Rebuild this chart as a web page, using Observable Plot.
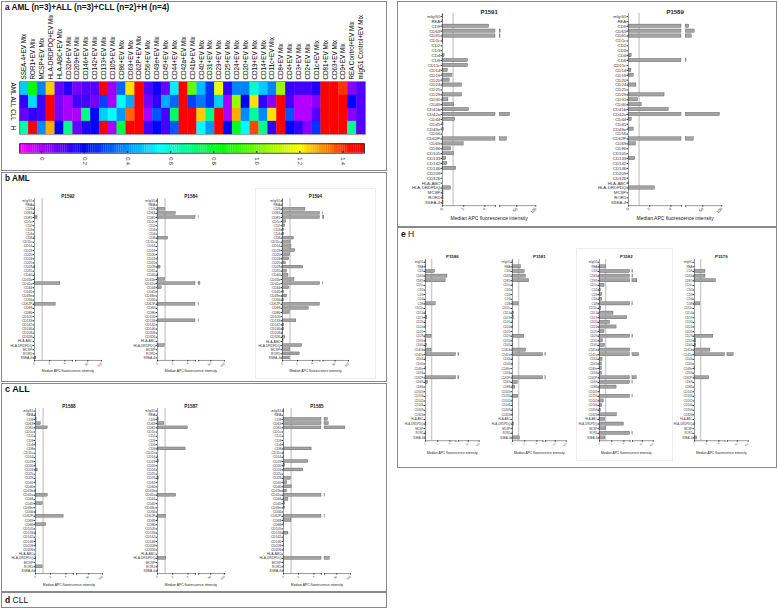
<!DOCTYPE html>
<html><head><meta charset="utf-8">
<script src="https://cdn.jsdelivr.net/npm/d3@7"></script>
<script src="https://cdn.jsdelivr.net/npm/@observablehq/plot@0.6"></script>
<style>
body{margin:0;background:#fff;font-family:"Liberation Sans",Arial,sans-serif}
#fig{position:relative;width:778px;height:609px;overflow:hidden;background:#fff}
.box{position:absolute;border:1px solid #8a8a8a;box-sizing:border-box}
.faint{position:absolute;border:1px solid #ececec;box-sizing:border-box}
.lab{position:absolute;white-space:nowrap;color:#111;line-height:1}
svg{overflow:visible}
</style></head><body><div id="fig"></div><script>
// ---------- DATA ----------
const markers = ["mIgG1","REA","CD9","CD63","CD81","CD1c","CD2","CD3","CD4","CD8","CD11c","CD14","CD19","CD20","CD24","CD25","CD29","CD31","CD40","CD41b","CD42a","CD44","CD45","CD49e","CD56","CD62P","CD69","CD86","CD105","CD133","CD142","CD146","CD209","CD326","HLA-ABC","HLA-DRDPDQ","MCSP","ROR1","SSEA-4"];

const heatCols = ["SSEA-4+EV Mix","ROR1+EV Mix","MCSP+EV Mix","HLA-DRDPDQ+EV Mix","HLA-ABC+EV Mix","CD326+EV Mix","CD209+EV Mix","CD146+EV Mix","CD142+EV Mix","CD133+EV Mix","CD105+EV Mix","CD86+EV Mix","CD69+EV Mix","CD62P+EV Mix","CD56+EV Mix","CD49e+EV Mix","CD45+EV Mix","CD44+EV Mix","CD42a+EV Mix","CD41b+EV Mix","CD40+EV Mix","CD31+EV Mix","CD29+EV Mix","CD25+EV Mix","CD24+EV Mix","CD20+EV Mix","CD19+EV Mix","CD14+EV Mix","CD11c+EV Mix","CD8+EV Mix","CD4+EV Mix","CD3+EV Mix","CD2+EV Mix","CD1c+EV Mix","CD81+EV Mix","CD63+EV Mix","CD9+EV Mix","REA Control+EV Mix","mIgG1 Control+EV Mix"];
const heatRows = ["AML","ALL","CLL","H"];
const heatAML = [0.48,0.85,0.38,1.25,0.08,0.16,0.06,0.10,0.10,1.5,0.02,0.34,1.23,1.5,0.10,0.18,0.08,0.53,1.5,0.99,0.46,0.27,1.18,0.14,0.38,0.38,0.61,0.48,0.38,1.06,0.14,0.12,0.12,0.16,1.5,1.5,1.40,0.04,0.10];
const heatALL = [0.14,0.50,0.12,1.5,0.06,0.0,0.12,0.12,0.06,0.29,0.0,0.55,0.43,1.5,0.06,0.14,0.43,0.34,1.5,0.29,0.36,0.27,0.48,0.0,1.06,0.2,1.23,0.14,0.04,1.5,0.12,-0.01,-0.01,0.04,1.5,1.5,1.5,0.2,0.10];
const heatCLL = [0.08,0.14,0.12,1.5,0.06,0.0,0.0,0.69,0.2,0.48,0.55,0.41,1.35,1.5,0.0,0.32,0.12,0.73,1.5,1.5,1.25,0.69,1.5,0.0,1.28,0.39,0.67,0.39,1.23,1.5,0.32,-0.01,-0.01,0.10,1.5,1.5,1.5,0.04,0.10];
const heatH = [0.65,1.5,0.39,1.28,0.2,0.69,0.08,0.16,0.2,1.5,0.0,0.77,1.5,1.5,0.12,0.2,0.12,0.32,1.5,1.5,0.55,0.41,1.5,0.2,0.81,0.55,1.38,0.69,0.14,1.5,0.2,0.14,0.04,0.27,1.5,1.5,1.5,0.67,0.10];

const colorStops = [-0.1,0.2,0.55,0.85,1.2,1.45];
const colorRange = ["#ff00ff","#0000ff","#00ffff","#00ff00","#ffff00","#ff0000"];
const cbTicks = [0,0.2,0.4,0.6,0.8,1.0,1.2,1.4];
const cbTickLabels = ["0","0.2","0.4","0.6","0.8","1.0","1.2","1.4"];

// median APC fluorescence intensity per marker (same order as markers)
const aml1592 = [0,0,0.05,0.1,0.4,0,0,0,0,0.05,0,0,0,0,0,0,0.1,0,0.05,0.1,3.4,0,0,0,0,2.8,0,0,0,0,0,0,0,0,0,0,0,0,0.25];
const aml1584 = [0.05,0,1.0,2.4,5.3,0,0,0,0,1.4,0,0,0,0,0.05,0,0.4,0,0.1,1.0,12,0.55,0,0,0,6,0,0,0,6,0,0,0,0,0,0.95,0,0,0];
const aml1594 = [0.1,0.05,3.06,6,10,0.45,0.36,0.22,0.22,1.5,1.1,1.2,1.7,1.04,0.9,0.45,2.75,0.6,0.8,1.6,6,0.9,0.22,0.6,0.18,5.0,3.5,0.95,0,1.85,0.22,0.22,0.1,0.36,0.14,2.6,1.04,2.3,0.95];
const all1588 = [0,0.1,0.15,0.7,1.6,0,0,0,0.05,0,0,0,0,0.1,0.3,0,0,0.05,0,0.1,1.6,0,0.95,0,0.1,3.7,0,1.4,0,0.05,0,0.1,0.1,0,0,0.1,0,0.95,0.05];
const all1587 = [0,0,0.15,0.9,4.0,0,0,0,0,3.7,0,0.05,0.15,0,0,0,0.15,0,0,0,2.45,0,0,0,0,1.1,0.1,0,0,0,0,0,0,0,0,1.15,0,0.05,0.05];
const all1585 = [0.1,0,16.7,20.6,81.8,0,0,0,0.1,3.7,0.1,0.1,3.26,0.2,2.6,0,0.95,0.5,1.1,0.43,6.5,0.65,0.2,0.2,0,6,1.04,0.1,0,0.65,0.05,0.05,0.05,0.05,0,24.5,0.1,0.1,0.05];
const cll1591 = [0.08,0.05,4.4,7.5,7,0.08,0,0,0.2,2.4,2.4,0.5,0.94,0.69,1.84,0,1.84,0.56,1.1,2.5,32,1.2,0.1,0.12,0,23.7,2.0,0.8,1.1,0.35,0.44,1.3,0,0,0,0.8,0.1,0.1,0.1];
const cll1589 = [0,0,14,28.7,21,0,0,0,0.3,7,0,0.28,0.5,0,0.75,0,3.4,0.9,1.25,3.8,95,0.3,0,0.5,0,26,0.7,0,0,0.63,0,0,0,0,0.05,2.5,0,0,0];
const h1586 = [0.1,0.1,1.55,3.6,3.3,0,0,0,0,1.67,0,0.1,0.3,0.1,0.1,0,1.0,0.1,0.2,1.0,9,0.1,0,0.1,0,9,0.4,0,0,0,0,0,0,0,0,0.15,0,0.1,0.1];
const h1581 = [0.1,1.4,2.0,2.2,2.7,0.1,0,0,0,1.0,0,0.2,0.2,0.1,0.1,0,1.95,0.1,0.1,2.2,8,0.1,0.1,0,0,7,0.85,0.45,0,0.95,0.1,0.1,0.1,0.1,0,0.2,0.1,0.1,1.2];
const h1582 = [0,1.1,8,8,27.6,0.83,0.2,0.45,0.45,6,0.3,2.3,4.55,1.7,2.8,0.83,8,0.55,0.9,5.0,35,0.5,0.4,0.4,0.4,24.6,6,2.8,0.1,6,0.7,0.45,0.2,2.85,0.95,4,1.1,6,0.95];
const h1579 = [0,0,1.8,1.8,3.5,0,0,0,0,0.95,0,0,0,0,0,0,3.1,0.3,0.3,2.6,33.6,0,0,0.1,0,2.4,0,0,0,0,0,0,0,0,0,0.1,0,0,0.45];

const xTickValues = [0,2,4,50,100];
const xTickLabels = ["0","2","4","50","100"];
const xLabelText = "Median APC fluorescence intensity";
const THRESH = 1;
// ---------- BROKEN AXIS ----------
const BREAK = 5, GAP = 0.4, SEG2 = 3.4/95;
const brk = v => v <= BREAK ? v : BREAK + GAP + (v - BREAK) * SEG2;
const X_MAX = brk(100);
const SEG2_START = BREAK + GAP;

const fig = document.getElementById("fig");
function place(node, left, top){ node.style.position="absolute"; node.style.left=left+"px"; node.style.top=top+"px"; node.style.maxWidth="none"; fig.appendChild(node); }
function div(cls, l, t, w, h){ const d=document.createElement("div"); d.className=cls; Object.assign(d.style,{left:l+"px",top:t+"px",width:w+"px",height:h+"px"}); fig.appendChild(d); }
function label(html, l, t, fs){ const d=document.createElement("div"); d.className="lab"; d.innerHTML=html; Object.assign(d.style,{left:l+"px",top:t+"px",fontSize:fs+"px"}); fig.appendChild(d); }

// panel boxes
div("box",1,1,386,170);
div("box",1,172,386,210);
div("box",1,383,386,209);
div("box",1,592,386,16);
div("box",397,1,380,226);
div("box",397,227,380,241);
div("faint",255,188,121,191);
div("faint",576,248,97,213);

label("<b>a AML (n=3)+ALL (n=3)+CLL (n=2)+H (n=4)</b>",5,4,8.2);
label("<b>b AML</b>",5,175,8.2);
label("<b>c ALL</b>",5,385,9);
label("<b>d</b> CLL",5,596,8.5);
label("<b>e</b> H",401,230,8.5);

// ---------- HEATMAP ----------
const colorOpts = {type:"linear", domain: colorStops, range: colorRange, interpolate:"rgb", clamp:true};
const heatSeries = [heatAML, heatALL, heatCLL, heatH];
const heatData = [];
heatRows.forEach((r, ri) => heatCols.forEach((c, ci) => heatData.push({row:r, col:c, v:heatSeries[ri][ci]})));

const heat = Plot.plot({
  width:386, height:136, marginLeft:19.3, marginRight:21, marginTop:81, marginBottom:1.7,
  style:{fontFamily:"'Liberation Sans',Arial,sans-serif", fontSize:"6.3px", color:"#000", background:"transparent", overflow:"visible"},
  x:{domain:heatCols, axis:"top", tickRotate:-90, tickSize:0, tickPadding:2, label:null, padding:0},
  y:{domain:heatRows, tickRotate:90, tickSize:0, tickPadding:4, label:null, padding:0},
  color: colorOpts,
  marks:[
    Plot.cell(heatData, {x:"col", y:"row", fill:"v", stroke:"v", strokeWidth:0.3, inset:0}),
    Plot.frame({stroke:"#555", strokeWidth:0.6})
  ]
});
place(heat,0,0);

// ---------- COLORBAR ----------
const ramp = d3.range(-0.1, 1.5, 0.01);
const cb = Plot.plot({
  width:386, height:34, marginLeft:19.3, marginRight:22, marginTop:7.3, marginBottom:17.3,
  style:{fontFamily:"'Liberation Sans',Arial,sans-serif", fontSize:"5.6px", color:"#222", background:"transparent", overflow:"visible"},
  x:{domain:[-0.1,1.5], ticks:cbTicks, tickFormat:t => cbTickLabels[cbTicks.indexOf(t)], tickRotate:90, tickSize:0, tickPadding:4, label:null},
  y:{axis:null},
  color: colorOpts,
  marks:[
    Plot.barX(ramp, {x1:d=>d, x2:d=>d+0.0105, fill:d=>d+0.005, inset:0}),
    Plot.tickX(cbTicks, {x:d=>d, stroke:"#222", strokeWidth:1.2, insetTop:7.6}),
    Plot.frame({stroke:"#111", strokeWidth:0.8})
  ]
});
place(cb,0,136);

// ---------- BAR CHARTS ----------
const sizes = {
  small:{yFs:3.3, xFs:3, titleFs:4.6, labelFs:3.4, labelDy:12, titleDy:4},
  big:{yFs:4.3, xFs:4, titleFs:6, labelFs:5, labelDy:14.5, titleDy:4.2},
  tiny:{yFs:2.8, xFs:2.6, titleFs:4.4, labelFs:3.3, labelDy:13, titleDy:4.2}
};
const charts = [
  {name:"P1592", vals:aml1592, x0:34.3, rowTop:200.7, rowBottom:357.7, ppu:7.6, size:"small"},
  {name:"P1584", vals:aml1584, x0:157.3, rowTop:200.7, rowBottom:357.7, ppu:7.6, size:"small"},
  {name:"P1594", vals:aml1594, x0:282.3, rowTop:200.7, rowBottom:357.7, ppu:7.5, size:"small"},
  {name:"P1588", vals:all1588, x0:35.3, rowTop:411, rowBottom:571, ppu:7.6, size:"small"},
  {name:"P1587", vals:all1587, x0:157.3, rowTop:411, rowBottom:571, ppu:7.6, size:"small"},
  {name:"P1585", vals:all1585, x0:283.3, rowTop:411, rowBottom:571, ppu:7.6, size:"small"},
  {name:"P1591", vals:cll1591, x0:442, rowTop:15.7, rowBottom:202, ppu:10.6, size:"big"},
  {name:"P1589", vals:cll1589, x0:628, rowTop:15.7, rowBottom:202, ppu:10.6, size:"big"},
  {name:"P1586", vals:h1586, x0:425, rowTop:262, rowBottom:437.7, ppu:6.1, size:"tiny"},
  {name:"P1581", vals:h1581, x0:511.7, rowTop:262, rowBottom:437.7, ppu:6.1, size:"tiny"},
  {name:"P1582", vals:h1582, x0:599, rowTop:262, rowBottom:437.7, ppu:6.1, size:"tiny"},
  {name:"P1579", vals:h1579, x0:694, rowTop:262, rowBottom:437.7, ppu:6.1, size:"tiny"}
];

const xTickUnits = [...xTickValues.map(brk), BREAK, SEG2_START].sort((a,b)=>a-b);
const xTickFmt = u => { const k = xTickValues.findIndex(v => Math.abs(brk(v)-u) < 1e-9); return k >= 0 ? xTickLabels[k] : ""; };
const axisSegs = [{a:0, b:BREAK}, {a:SEG2_START, b:X_MAX}];

function barChart(c){
  const s = sizes[c.size];
  const step = (c.rowBottom - c.rowTop) / (markers.length - 1);
  const pad = 0.6;
  const ML = 40, MR = 6, MT = 12, MB = 22;
  const frameTop = c.rowTop - pad*step, frameBottom = c.rowBottom + pad*step;
  const width = ML + X_MAX*c.ppu + MR;
  const height = MT + (frameBottom - frameTop) + MB;
  const data = markers.map((m,i) => ({m, i, v:c.vals[i]}));
  const yBottom = markers.length - 1 + pad;
  const p = Plot.plot({
    width, height, marginLeft:ML, marginRight:MR, marginTop:MT, marginBottom:MB,
    style:{fontFamily:"'Liberation Sans',Arial,sans-serif", fontSize:s.yFs+"px", color:"#333", background:"transparent", overflow:"visible"},
    x:{domain:[0,X_MAX], ticks:xTickUnits, tickFormat:xTickFmt, tickRotate:-45, tickSize:1.5, tickPadding:1, label:null},
    y:{domain:[yBottom, -pad], ticks:markers.map((m,i)=>i), tickFormat:i=>markers[i], tickSize:1.5, tickPadding:0.8, label:null},
    marks:[
      Plot.ruleX([brk(THRESH)], {x:d=>d, stroke:"#cdcdcd", strokeWidth:1.4}),
      Plot.rect(data, {x1:()=>0, x2:d=>brk(Math.min(d.v,BREAK)), y1:d=>d.i-0.34, y2:d=>d.i+0.34, fill:"#a3a3a3", stroke:"#4a4a4a", strokeWidth:0.35}),
      Plot.rect(data.filter(d=>d.v>BREAK), {x1:()=>SEG2_START, x2:d=>brk(d.v), y1:d=>d.i-0.34, y2:d=>d.i+0.34, fill:"#a3a3a3", stroke:"#4a4a4a", strokeWidth:0.35}),
      Plot.ruleX([0], {x:d=>d, stroke:"#333", strokeWidth:0.5}),
      Plot.ruleY(axisSegs, {y:()=>yBottom, x1:"a", x2:"b", stroke:"#333", strokeWidth:0.5}),
      Plot.text([c.name], {frameAnchor:"top", dy:-s.titleDy, fontWeight:"bold", fontSize:s.titleFs, fill:"#222"}),
      Plot.text([xLabelText], {frameAnchor:"bottom", dy:s.labelDy, fontSize:s.labelFs, fill:"#222"})
    ]
  });
  p.querySelectorAll("g[aria-label='x-axis tick label'] text").forEach(t => t.style.fontSize = s.xFs+"px");
  place(p, c.x0 - ML, frameTop - MT);
}
charts.forEach(barChart);
</script></body></html>
